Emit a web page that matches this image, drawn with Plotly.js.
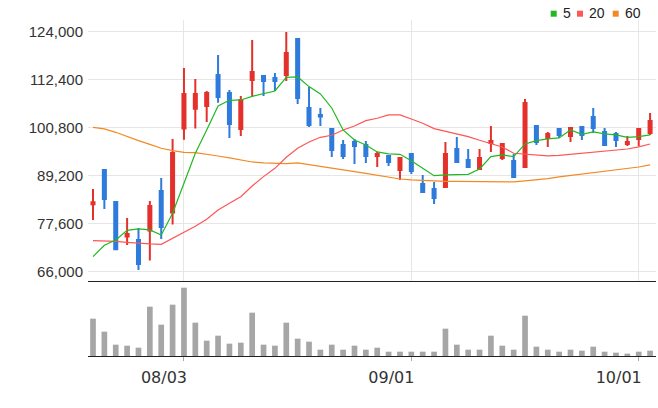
<!DOCTYPE html>
<html>
<head>
<meta charset="utf-8">
<script src="https://cdn.plot.ly/plotly-3.0.1.min.js"></script>
<style>html,body{margin:0;padding:0;background:#fff;}#chart{width:658px;height:408px;}</style>
</head>
<body>
<div id="chart"></div>
<script>
// Trading dates (categories)
const dates = [
  '2015-07-22','2015-07-23','2015-07-24','2015-07-27','2015-07-28','2015-07-29','2015-07-30','2015-07-31',
  '2015-08-03','2015-08-04','2015-08-05','2015-08-06','2015-08-07','2015-08-10','2015-08-11','2015-08-12','2015-08-13',
  '2015-08-17','2015-08-18','2015-08-19','2015-08-20','2015-08-21','2015-08-24','2015-08-25','2015-08-26','2015-08-27','2015-08-28','2015-08-31',
  '2015-09-01','2015-09-02','2015-09-03','2015-09-04','2015-09-07','2015-09-08','2015-09-09','2015-09-10','2015-09-11',
  '2015-09-14','2015-09-15','2015-09-16','2015-09-17','2015-09-18','2015-09-21','2015-09-22','2015-09-23','2015-09-24','2015-09-25',
  '2015-09-30','2015-10-01','2015-10-02'
];
const openP = [82190,90490,82750,74380,73570,75830,85410,80180,100480,105310,
  105960,113450,109100,100400,112240,113210,112720,113450,122150,105470,
  103780,100400,96530,97250,96530,93870,93870,90490,94350,87100,
  85900,86380,95560,92900,90730,97010,93390,92660,91210,101120,
  98220,100400,98700,100880,103300,99670,99190,96770,97980,99430];
const highP = [85900,90490,82750,78890,76470,83000,88550,97980,115140,112480,
  109580,118280,109820,108370,121900,113450,113930,123840,122150,110550,
  105470,100400,97740,97980,97500,94840,94110,93390,94600,89280,
  87590,97250,98460,95560,95560,101120,96770,94350,107650,101120,
  99670,100640,100880,100880,105470,100640,99670,98700,100640,104260];
const lowP = [78400,81060,71150,72360,66320,68580,73810,77280,97820,100480,
  102090,106760,98220,98700,108370,108370,109580,112000,106440,100880,
  101120,93630,93150,91940,92180,91210,91450,88070,89520,85170,
  82270,86380,92420,91210,90730,94840,92900,88550,90970,96530,
  96050,98220,97250,97740,99430,96530,96050,96290,96290,98950];
const closeP = [82670,83480,71310,75020,67770,81790,76710,94600,108860,108860,
  109100,108130,101600,107410,114170,112000,112000,118760,107890,101360,
  103380,95320,93870,96290,93870,94350,92420,93390,90250,85170,
  83720,94350,92420,91210,93390,97500,96770,88800,106680,97250,
  99190,98950,100640,98950,100640,96530,97740,97250,100400,102330];
const ma5 = [69540,72280,73570,75910,76230,75990,74780,80020,87270,94520,
  100160,105960,107330,107410,108290,108860,109580,112880,112960,110630,
  108860,105470,100160,97740,96530,94840,94360,94280,92740,90890,
  89120,89280,89360,89440,90730,93710,94110,93710,96770,97580,
  97980,98220,100160,99110,99670,99190,98950,98380,98540,98950];
const ma20 = [73410,73410,73250,73010,72770,72610,72530,73980,75430,76880,
  78570,80820,82430,84040,86620,88880,90890,93550,95730,97260,
  98380,98870,100160,101120,102410,102980,103780,103780,102810,101770,
  100480,99830,99350,98540,97660,96850,96050,94520,94360,94110,
  93870,94030,94280,94520,94840,95080,95320,95560,96050,96770];
const ma60 = [100800,100400,99590,98540,97580,96690,95730,95160,94760,94680,
  94360,93870,93390,92830,92420,92180,92020,92020,92180,91780,
  91460,90970,90490,90090,89680,89200,88640,88310,88070,87910,
  87750,87750,87750,87750,87670,87590,87590,87590,87830,88070,
  88390,88800,89120,89440,89840,90090,90490,90810,91210,91700];
const volume = [1120,730,340,310,250,1480,940,1540,2050,1000,
  460,610,370,400,1300,340,310,1000,520,430,
  190,340,190,310,190,250,130,130,130,130,
  130,820,340,190,190,610,310,190,1210,280,
  190,130,190,160,280,130,100,70,130,160];
const priceTicks = [66000,77600,89200,100800,112400,124000];
const dateTickVals = ['2015-08-03','2015-09-01','2015-10-01'];
const dateTickText = ['08/03','09/01','10/01'];
const maNames = ['5','20','60'];
const maColors = ['#22b822','#ff5555','#f28a24'];

// pixel helpers for legend placement (plot area 88..656 x 20..356)
const L = 88, R = 656, T = 20, B = 356;
const px = v => (v - L) / (R - L);
const py = v => (B - v) / (B - T);

const traces = [];
[ma60, ma20, ma5].forEach((arr, k) => {
  const idx = 2 - k;
  traces.push({type:'scatter', mode:'lines', x:dates, y:arr, xaxis:'x', yaxis:'y',
    line:{color:maColors[idx], width:1.2}, hoverinfo:'skip', showlegend:false});
});
traces.push({
  type:'candlestick', x:dates, open:openP, high:highP, low:lowP, close:closeP,
  xaxis:'x', yaxis:'y', whiskerwidth:0,
  increasing:{line:{color:'#e3312b', width:2}, fillcolor:'#e3312b'},
  decreasing:{line:{color:'#2e7bdc', width:2}, fillcolor:'#2e7bdc'},
  showlegend:false, hoverinfo:'skip'
});
traces.push({type:'bar', x:dates, y:volume, xaxis:'x2', yaxis:'y2',
  marker:{color:'#a6a6a6'}, width:0.5, showlegend:false, hoverinfo:'skip'});

const legendSq = [[550.7,556.7],[577,583],[612.7,618.7]];
const legendTx = [560.5,586.5,622.5];
const shapes = legendSq.map((s, i) => ({type:'rect', xref:'paper', yref:'paper',
  x0:px(s[0]), x1:px(s[1]), y0:py(16.7), y1:py(10.7), fillcolor:maColors[i], line:{width:0}}));
const annotations = maNames.map((n, i) => ({xref:'paper', yref:'paper', x:px(legendTx[i]), y:py(13.5),
  xanchor:'left', yanchor:'middle', text:n, showarrow:false,
  font:{family:'Liberation Sans, Arial, sans-serif', size:14, color:'#222'}}));

const layout = {
  width:658, height:408,
  margin:{l:L, r:658-R, t:T, b:408-B, pad:0},
  paper_bgcolor:'#fff', plot_bgcolor:'#fff',
  showlegend:false, boxgap:0.62,
  xaxis:{type:'category', anchor:'y', range:[-0.44, 49.52], rangeslider:{visible:false},
    tickvals:dateTickVals, showticklabels:false, ticks:'', showgrid:true, gridcolor:'#e6e6e6', gridwidth:1,
    showline:true, linecolor:'#222', linewidth:1.2, zeroline:false, fixedrange:true},
  xaxis2:{type:'category', anchor:'y2', range:[-0.44, 49.52],
    tickvals:dateTickVals, ticktext:dateTickText, ticks:'outside', ticklen:4, tickcolor:'#aaa', tickwidth:1,
    showgrid:false, showline:true, linecolor:'#222', linewidth:1.2, zeroline:false,
    tickfont:{family:'DejaVu Sans, sans-serif', size:16, color:'#333'}, ticklabelstandoff:3, ticklabelshift:-20},
  yaxis:{domain:[py(281), 1], range:[63655, 126731], tickvals:priceTicks, tickformat:',d',
    showgrid:true, gridcolor:'#e6e6e6', gridwidth:1, zeroline:false, showline:false, ticks:'',
    tickfont:{family:'Liberation Sans, Arial, sans-serif', size:15, color:'#333'}, ticklabelstandoff:4},
  yaxis2:{domain:[0, py(281)], range:[0, 2250], showgrid:false, showticklabels:false, zeroline:false, ticks:''},
  shapes:shapes, annotations:annotations
};
Plotly.newPlot('chart', traces, layout, {displayModeBar:false, staticPlot:true});
</script>
</body>
</html>
